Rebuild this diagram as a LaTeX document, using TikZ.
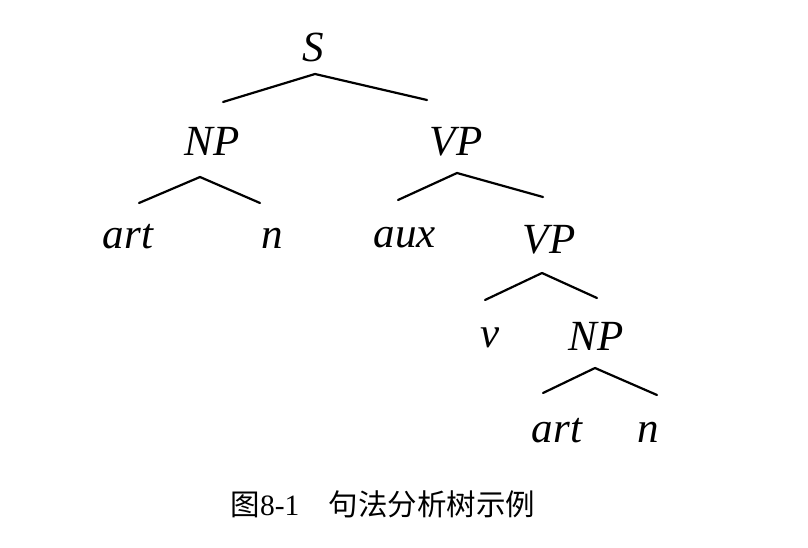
\documentclass[tikz,border=0pt]{standalone}
\usepackage{fontspec}
\setmainfont{Liberation Serif}
\newfontfamily\cjk{Noto Sans CJK SC}
\begin{document}
\begin{tikzpicture}[x=1pt,y=-1pt,line join=round,line cap=round,line width=2.2pt,
	cat/.style={anchor=base,inner sep=0pt,font=\fontsize{43}{43}\selectfont\itshape}]
	\useasboundingbox (0,0) rectangle (808,548);
	\foreach \name/\txt/\x/\y in {S/S/313/62,np/NP/212/156,vp/VP/456/156,art/art/128/248,n/n/272/248,aux/aux/405/247,vpb/VP/549/253,v/v/490/347,npb/NP/596/350,artb/art/557/442,nb/n/648/442}
		\node[cat] (\name) at (\x,\y) {\txt};
	\path
	(315,74) coordinate (S-a) (223,102) coordinate (S-l) (427,100) coordinate (S-r)
	(200,177) coordinate (np-a) (139,203) coordinate (np-l) (260,203) coordinate (np-r)
	(457,173) coordinate (vp-a) (398,200) coordinate (vp-l) (543,197) coordinate (vp-r)
	(542,273) coordinate (vpb-a) (485,300) coordinate (vpb-l) (597,298) coordinate (vpb-r)
	(595,368) coordinate (npb-a) (543,393) coordinate (npb-l) (657,395) coordinate (npb-r)
	;
	\foreach \p in {S,np,vp,vpb,npb}\draw (\p-l)--(\p-a)--(\p-r);
	\node[anchor=base,inner sep=0pt,font=\fontsize{29.5}{29.5}\selectfont] (cap) at (383,515) {{\cjk 图}8-1\quad{\cjk 句法分析树示例}};
\end{tikzpicture}
\end{document}
